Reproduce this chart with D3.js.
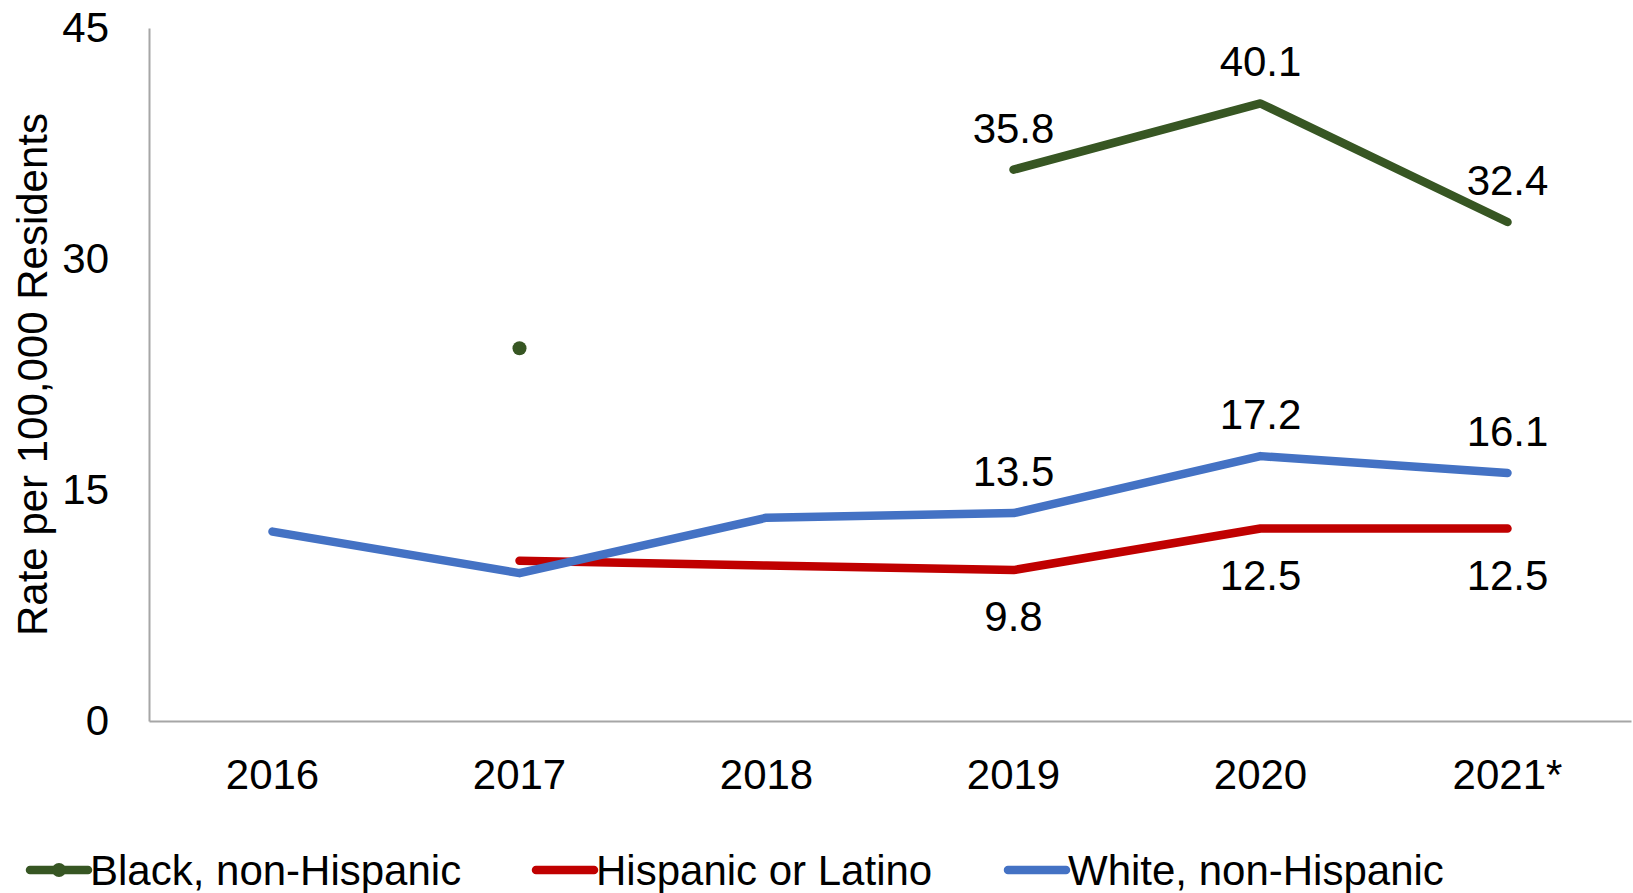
<!DOCTYPE html>
<html><head><meta charset="utf-8">
<script src="https://cdn.jsdelivr.net/npm/d3@7"></script>
<style>body{margin:0;background:#fff}svg{display:block;font-family:"Liberation Sans",Arial,sans-serif}</style>
</head><body>
<svg id="c" width="1633" height="893"></svg>
<script>
const years = ["2016","2017","2018","2019","2020","2021*"];
const black = [null, 24.2, null, 35.8, 40.1, 32.4];
const hispanic = [null, 10.4, 10.1, 9.8, 12.5, 12.5];
const white = [12.3, 9.6, 13.2, 13.5, 17.2, 16.1];
const yTicks = [0, 15, 30, 45];
const blackLabels = [null, null, null, "35.8", "40.1", "32.4"];
const hispLabels = [null, null, null, "9.8", "12.5", "12.5"];
const whiteLabels = [null, null, null, "13.5", "17.2", "16.1"];
const seriesNames = ["Black, non-Hispanic", "Hispanic or Latino", "White, non-Hispanic"];

const svg = d3.select("#c");
const pL = 149, pR = 1631, pT = 28, pB = 721;
const x = d3.scaleBand().domain(years).range([pL, pR]).padding(0);
const y = d3.scaleLinear().domain([0, 45]).range([pB, pT]);
const cx = d => x(d) + x.bandwidth() / 2;
const fs = 42;
const sw = 8.5;

// axes
const ya = svg.append("g").attr("transform", `translate(${pL},0)`)
  .call(d3.axisLeft(y).tickValues(yTicks).tickSize(0).tickPadding(40));
ya.select(".domain").attr("stroke", "#a6a6a6").attr("stroke-width", 2);
ya.selectAll("text").attr("font-size", fs).attr("fill", "#000").attr("font-family", "Liberation Sans, Arial, sans-serif");

const xa = svg.append("g").attr("transform", `translate(0,${pB})`)
  .call(d3.axisBottom(x).tickSize(0).tickPadding(38));
xa.select(".domain").attr("stroke", "#a6a6a6").attr("stroke-width", 2);
xa.selectAll("text").attr("font-size", fs).attr("fill", "#000").attr("font-family", "Liberation Sans, Arial, sans-serif");

svg.append("text").attr("transform", `translate(47,${(pT+pB)/2}) rotate(-90)`)
  .attr("text-anchor", "middle").attr("font-size", fs).text("Rate per 100,000 Residents");

const line = d3.line().defined(d => d.v != null).x(d => cx(d.k)).y(d => y(d.v));
const series = [
  {vals: black, color: "#375623", labels: blackLabels, dy: -27},
  {vals: hispanic, color: "#C00000", labels: hispLabels, dy: 61},
  {vals: white, color: "#4472C4", labels: whiteLabels, dy: -27}
];
series.forEach(s => {
  const data = years.map((k, i) => ({k, v: s.vals[i]}));
  svg.append("path").datum(data).attr("d", line).attr("fill", "none")
    .attr("stroke", s.color).attr("stroke-width", sw).attr("stroke-linecap", "round").attr("stroke-linejoin", "round");
  data.forEach((d, i) => {
    const prev = i > 0 ? data[i-1].v : null, next = i < data.length-1 ? data[i+1].v : null;
    if (d.v != null && prev == null && next == null) {
      svg.append("circle").attr("cx", cx(d.k)).attr("cy", y(d.v)).attr("r", 7).attr("fill", s.color);
    }
  });
  data.forEach((d, i) => {
    if (s.labels[i]) {
      svg.append("text").attr("x", cx(d.k)).attr("y", y(d.v) + s.dy)
        .attr("text-anchor", "middle").attr("font-size", fs).attr("fill", "#000").text(s.labels[i]);
    }
  });
});

// legend
const legX = [30, 536, 1008];
const legY = 870;
seriesNames.forEach((n, i) => {
  const s = series[i];
  const g = svg.append("g");
  g.append("line").attr("x1", legX[i]).attr("x2", legX[i] + 58).attr("y1", legY).attr("y2", legY)
    .attr("stroke", s.color).attr("stroke-width", sw).attr("stroke-linecap", "round");
  if (i === 0) g.append("circle").attr("cx", legX[i] + 29).attr("cy", legY).attr("r", 7).attr("fill", s.color);
  g.append("text").attr("x", legX[i] + 60).attr("y", legY + 15).attr("font-size", fs).attr("fill", "#000").text(n);
});
</script>
</body></html>
